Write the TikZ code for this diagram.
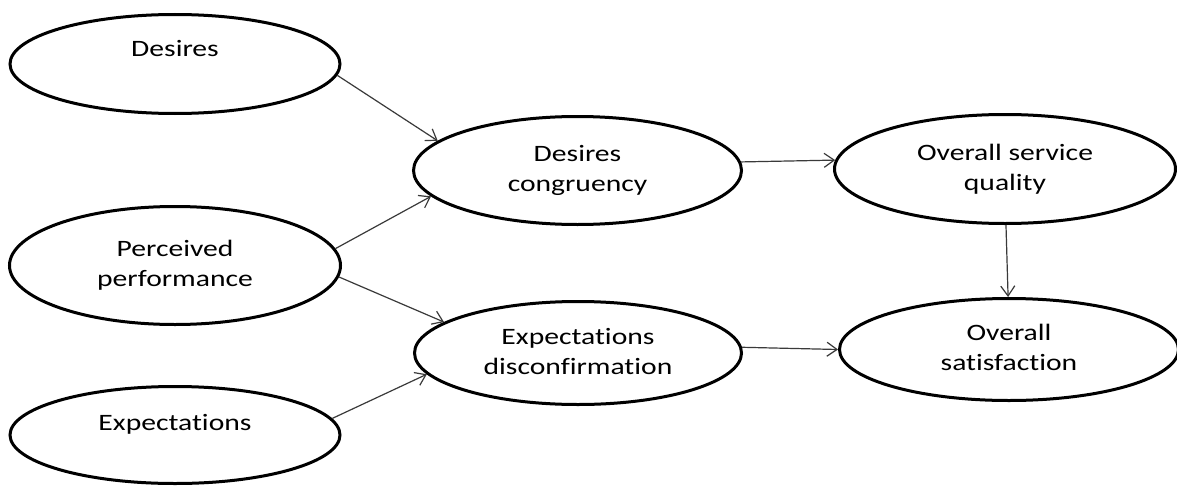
\documentclass[tikz,border=0pt]{standalone}
\usepackage{fontspec}
\setmainfont{Carlito}[Ligatures={NoCommon}]
\usepackage{graphicx}
\usetikzlibrary{shapes.geometric,arrows.meta}

\definecolor{linkgray}{HTML}{3A3A3A}

% horizontally widened, centred block of lines
\newcommand{\wide}[1]{\scalebox{1.26}[1]{\begin{tabular}{@{}c@{}}#1\end{tabular}}}

\tikzset{
  bubble/.style={ellipse, draw=black, line width=3pt, inner sep=0pt,
    font=\fontsize{23.5}{30}\selectfont, text=black},
  link/.style={draw=linkgray, line width=1.2pt,
    -{Straight Barb[length=10pt,width=14pt,line width=1.2pt]}},
}

\begin{document}
\begin{tikzpicture}[x=1pt,y=-1pt]
  \useasboundingbox[fill=white] (0,0) rectangle (1177,487);

  % inputs
  \node[bubble, minimum width=330pt, minimum height=99pt]  (des) at (175,64)
    {\wide{Desires\\[-2pt]\strut}};
  \node[bubble, minimum width=331pt, minimum height=118pt] (per) at (175,265.5)
    {\wide{Perceived\\performance}};
  \node[bubble, minimum width=330pt, minimum height=97pt]  (exp) at (175,435)
    {\wide{Expectations\\[-8pt]\strut}};

  % comparisons
  \node[bubble, minimum width=328pt, minimum height=108pt] (dc) at (577.5,170.5)
    {\wide{Desires\\congruency}};
  \node[bubble, minimum width=327pt, minimum height=103pt] (ed) at (578,353)
    {\wide{Expectations\\disconfirmation}};

  % outcomes
  \node[bubble, minimum width=341pt, minimum height=109pt] (osq) at (1005,169)
    {\wide{Overall service\\quality}};
  \node[bubble, minimum width=339pt, minimum height=102pt] (os) at (1009,349.5)
    {\wide{Overall\\satisfaction}};

  % links
  \draw[link] (des.-4)  -- (dc.168);
  \draw[link] (per.6)   -- (dc.-170);
  \draw[link] (per.-4)  -- (ed.167);
  \draw[link] (exp.6)   -- (ed.-172);
  \draw[link] (dc.3)    -- (osq.177);
  \draw[link] (ed.2)    -- (os.180);
  \draw[link] (osq.-89) -- (os.91);
\end{tikzpicture}
\end{document}
